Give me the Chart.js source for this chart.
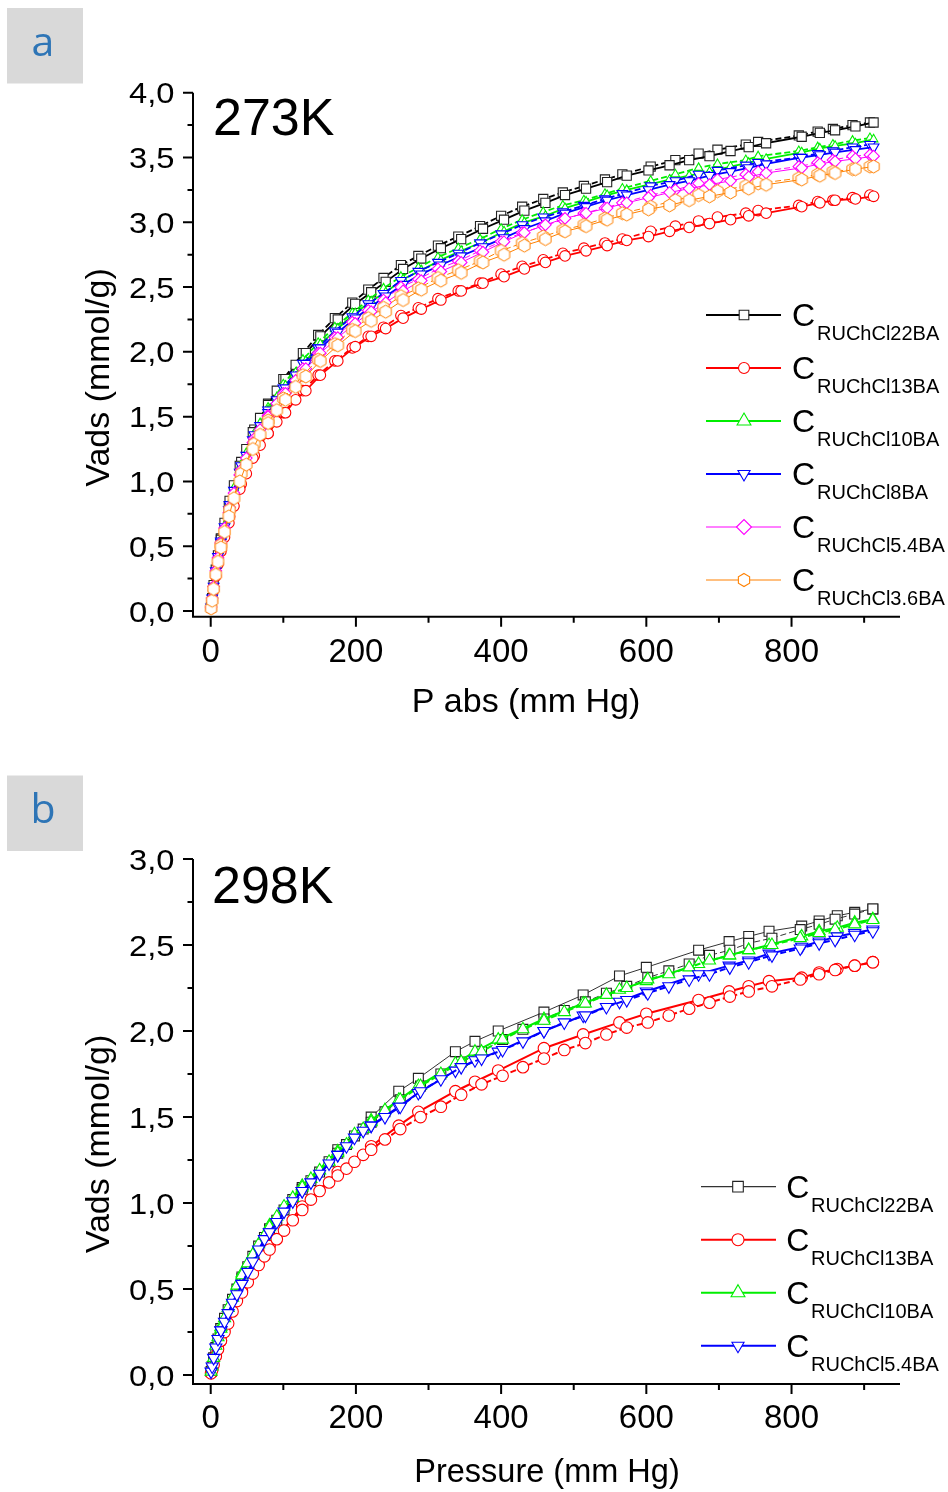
<!DOCTYPE html>
<html><head><meta charset="utf-8">
<script src="https://cdn.jsdelivr.net/npm/chart.js@4.4.1/dist/chart.umd.min.js"></script>
<style>
html,body{margin:0;padding:0;background:#fff;}
body{width:948px;height:1492px;position:relative;overflow:hidden;}
canvas{position:absolute;left:0;}
#ca{top:0;width:948px;height:745px;}
#cb{top:745px;width:948px;height:747px;}
</style></head><body>
<canvas id="ca" width="948" height="745"></canvas>
<canvas id="cb" width="948" height="747"></canvas>
<script>
// ---------------- DATA ----------------
const xMajorTicks = [0, 200, 400, 600, 800];
const xMinorTicks = [100, 300, 500, 700, 900];
const yMajorTicksA = [0, 0.5, 1, 1.5, 2, 2.5, 3, 3.5, 4];
const yMinorTicksA = [0.25, 0.75, 1.25, 1.75, 2.25, 2.75, 3.25, 3.75];
const yMajorTicksB = [0, 0.5, 1, 1.5, 2, 2.5, 3];
const yMinorTicksB = [0.25, 0.75, 1.25, 1.75, 2.25, 2.75];

const seriesNamesA = ['RUChCl22BA', 'RUChCl13BA', 'RUChCl10BA', 'RUChCl8BA', 'RUChCl5.4BA', 'RUChCl3.6BA'];
const seriesNamesB = ['RUChCl22BA', 'RUChCl13BA', 'RUChCl10BA', 'RUChCl5.4BA'];

// Panel a (273K): adsorption branch pressures (mm Hg)
const pressureAdsA = [0.5, 2, 4, 7, 10, 14, 19, 25, 32, 40, 49, 58, 68, 79, 91, 103, 117, 131, 151, 175, 199, 221, 241, 265, 290, 317, 345, 375, 404, 432, 461, 488, 517, 546, 573, 603, 632, 659, 687, 716, 741, 765, 814, 839, 860, 888, 913];
const ads22A = [0.03,0.10,0.20,0.32,0.43,0.55,0.68,0.81,0.97,1.12,1.25,1.38,1.49,1.59,1.70,1.79,1.90,1.99,2.12,2.25,2.37,2.46,2.54,2.64,2.72,2.80,2.87,2.95,3.02,3.09,3.15,3.21,3.26,3.31,3.36,3.40,3.44,3.48,3.51,3.55,3.58,3.61,3.66,3.69,3.71,3.74,3.77];
const ads13A = [0.02,0.08,0.16,0.27,0.36,0.46,0.57,0.68,0.81,0.94,1.06,1.18,1.28,1.37,1.46,1.53,1.63,1.70,1.82,1.93,2.04,2.12,2.18,2.26,2.33,2.40,2.47,2.53,2.58,2.64,2.69,2.74,2.78,2.82,2.86,2.89,2.93,2.96,2.99,3.02,3.05,3.07,3.12,3.15,3.17,3.18,3.20];
const ads10A = [0.03,0.10,0.20,0.31,0.42,0.54,0.66,0.79,0.95,1.09,1.22,1.35,1.45,1.55,1.65,1.74,1.84,1.93,2.06,2.18,2.30,2.39,2.46,2.56,2.63,2.71,2.78,2.85,2.93,3.00,3.05,3.11,3.16,3.21,3.25,3.29,3.33,3.36,3.39,3.43,3.46,3.49,3.54,3.57,3.59,3.61,3.64];
const ads8A  = [0.03,0.10,0.19,0.31,0.42,0.53,0.65,0.78,0.93,1.07,1.20,1.32,1.43,1.53,1.63,1.72,1.82,1.91,2.03,2.15,2.26,2.35,2.43,2.52,2.60,2.67,2.74,2.81,2.88,2.95,3.01,3.07,3.12,3.17,3.21,3.25,3.29,3.32,3.36,3.39,3.42,3.45,3.50,3.52,3.54,3.56,3.58];
const ads54A = [0.03,0.10,0.19,0.31,0.41,0.52,0.64,0.76,0.91,1.05,1.18,1.30,1.40,1.50,1.60,1.68,1.78,1.87,1.99,2.11,2.22,2.31,2.38,2.47,2.55,2.62,2.69,2.77,2.85,2.92,2.98,3.03,3.07,3.11,3.15,3.19,3.23,3.26,3.29,3.32,3.35,3.38,3.42,3.45,3.47,3.49,3.51];
const ads36A = [0.02,0.08,0.17,0.28,0.38,0.49,0.61,0.73,0.87,1.00,1.13,1.25,1.36,1.45,1.55,1.63,1.73,1.81,1.93,2.05,2.16,2.24,2.31,2.40,2.48,2.55,2.61,2.69,2.75,2.82,2.87,2.93,2.97,3.02,3.06,3.10,3.13,3.17,3.20,3.23,3.26,3.29,3.33,3.36,3.38,3.41,3.43];

// Panel a: desorption branch pressures (mm Hg)
const pressureDesA = [908, 884, 857, 836, 810, 754, 737, 698, 672, 640, 606, 567, 543, 514, 485, 458, 429, 400, 371, 341, 313, 286, 262, 238, 217, 195, 171, 148, 127, 100, 79, 60, 42, 26, 14];
const des22A = [3.77,3.75,3.72,3.70,3.67,3.62,3.60,3.56,3.53,3.48,3.43,3.37,3.33,3.28,3.23,3.18,3.12,3.05,2.97,2.89,2.82,2.74,2.67,2.57,2.48,2.38,2.26,2.13,1.99,1.79,1.60,1.40,1.15,0.85,0.56];
const des13A = [3.21,3.19,3.17,3.16,3.13,3.09,3.07,3.04,3.01,2.97,2.93,2.87,2.84,2.80,2.76,2.71,2.66,2.60,2.53,2.47,2.41,2.34,2.28,2.19,2.12,2.03,1.93,1.82,1.70,1.53,1.37,1.20,0.98,0.73,0.48];
const des10A = [3.65,3.63,3.60,3.58,3.55,3.51,3.48,3.45,3.42,3.37,3.32,3.26,3.22,3.17,3.13,3.08,3.02,2.95,2.87,2.80,2.73,2.65,2.58,2.49,2.40,2.30,2.19,2.07,1.94,1.75,1.57,1.37,1.13,0.83,0.55];
const des8A  = [3.60,3.58,3.55,3.53,3.50,3.46,3.44,3.40,3.37,3.32,3.28,3.22,3.18,3.13,3.08,3.04,2.98,2.91,2.84,2.76,2.69,2.62,2.55,2.45,2.37,2.27,2.16,2.03,1.91,1.72,1.55,1.36,1.12,0.82,0.54];
const des54A = [3.52,3.51,3.48,3.46,3.43,3.39,3.37,3.33,3.30,3.25,3.21,3.15,3.11,3.07,3.02,2.97,2.92,2.85,2.78,2.70,2.64,2.56,2.50,2.40,2.32,2.23,2.11,1.99,1.87,1.68,1.51,1.33,1.09,0.80,0.53];
const des36A = [3.43,3.41,3.39,3.37,3.34,3.30,3.28,3.24,3.21,3.17,3.12,3.07,3.03,2.98,2.94,2.89,2.84,2.78,2.70,2.63,2.57,2.49,2.43,2.34,2.26,2.17,2.06,1.94,1.82,1.64,1.47,1.29,1.06,0.78,0.51];

// Panel b (298K): dense branch pressures (mm Hg)
const pressureAdsB = [0.5, 2, 4, 7, 10, 14, 19, 24, 30, 36, 43, 51, 58, 66, 74, 81, 91, 101, 113, 126, 138, 150, 163, 175, 187, 198, 210, 221, 240, 261, 289, 317, 345, 373, 402, 430, 459, 487, 516, 545, 573, 602, 631, 659, 687, 715, 741, 773, 812, 838, 860, 887, 912];
const ads22B = [0.02,0.05,0.10,0.16,0.21,0.27,0.33,0.38,0.44,0.50,0.56,0.63,0.69,0.75,0.80,0.84,0.90,0.96,1.02,1.08,1.13,1.18,1.24,1.29,1.34,1.39,1.43,1.47,1.53,1.60,1.68,1.75,1.82,1.88,1.95,2.01,2.07,2.12,2.17,2.22,2.26,2.31,2.35,2.39,2.44,2.47,2.51,2.54,2.59,2.62,2.65,2.68,2.71];
const ads13B = [0.01,0.03,0.06,0.11,0.15,0.20,0.25,0.30,0.37,0.43,0.48,0.54,0.59,0.64,0.69,0.73,0.79,0.84,0.90,0.96,1.02,1.07,1.12,1.16,1.20,1.24,1.28,1.31,1.37,1.43,1.50,1.56,1.63,1.69,1.74,1.79,1.84,1.89,1.93,1.98,2.02,2.05,2.09,2.13,2.165,2.20,2.23,2.26,2.30,2.33,2.355,2.38,2.40];
const ads10B = [0.02,0.05,0.10,0.17,0.22,0.27,0.33,0.39,0.45,0.52,0.58,0.65,0.70,0.76,0.81,0.86,0.92,0.98,1.03,1.09,1.14,1.19,1.24,1.29,1.34,1.40,1.43,1.47,1.54,1.60,1.68,1.75,1.82,1.88,1.95,2.01,2.06,2.11,2.16,2.21,2.25,2.30,2.33,2.37,2.41,2.44,2.47,2.50,2.54,2.57,2.59,2.62,2.645];
const ads54B = [0.02,0.05,0.10,0.16,0.21,0.26,0.31,0.36,0.42,0.47,0.53,0.60,0.66,0.73,0.79,0.83,0.89,0.95,1.01,1.07,1.12,1.17,1.23,1.28,1.33,1.38,1.42,1.45,1.50,1.56,1.65,1.72,1.79,1.84,1.89,1.94,2.00,2.05,2.09,2.14,2.18,2.22,2.26,2.30,2.33,2.37,2.40,2.44,2.48,2.51,2.53,2.56,2.58];

// Panel b: sparse branch pressures (mm Hg)
const pressureDesB = [912, 887, 863, 838, 814, 769, 741, 714, 672, 600, 563, 513, 459, 396, 364, 337, 286, 259, 221, 175, 126, 81, 43, 14];
const des22B = [2.71,2.69,2.67,2.64,2.61,2.58,2.55,2.52,2.47,2.37,2.32,2.21,2.11,2.00,1.94,1.88,1.725,1.65,1.50,1.31,1.09,0.85,0.57,0.27];
const des13B = [2.40,2.38,2.36,2.34,2.31,2.29,2.26,2.23,2.18,2.10,2.05,1.98,1.90,1.77,1.705,1.65,1.53,1.45,1.33,1.18,0.98,0.75,0.49,0.20];
const des10B = [2.65,2.63,2.60,2.58,2.55,2.50,2.47,2.44,2.39,2.29,2.24,2.16,2.07,1.95,1.88,1.81,1.68,1.60,1.48,1.30,1.10,0.87,0.59,0.28];
const des54B = [2.59,2.57,2.55,2.52,2.49,2.45,2.41,2.38,2.33,2.23,2.17,2.09,2.00,1.88,1.83,1.77,1.64,1.56,1.45,1.28,1.07,0.83,0.53,0.26];

// ---------------- STYLES ----------------
const FONT = '"Liberation Sans", Arial, Helvetica, sans-serif';
const stylesA = [
  {color:'#000000', mc:'#222222', lw:1.8, llw:2, ps:'rect', r:6.5, lr:6.8},
  {color:'#ff0000', lw:1.8, llw:2, ps:'circle', r:5.3, lr:5.5},
  {color:'#00ee00', lw:1.8, llw:2, ps:'triangle', r:5, lr:8},
  {color:'#0000ff', lw:1.8, llw:2, ps:'triangle', rot:180, r:6.2, lr:7},
  {color:'#ff00ff', lw:1, llw:1, ps:'rectRot', r:5.8, lr:7.5},
  {color:'#ff8000', lw:1, llw:1, ps:'hex', r:6.5, lr:6.5}
];
const stylesB = [
  {color:'#333333', mc:'#222222', lw:1, llw:1.2, ps:'rect', r:7, lr:7.5},
  {color:'#ff0000', lw:2, llw:2, ps:'circle', r:5.8, lr:6},
  {color:'#00ee00', lw:2, llw:2, ps:'triangle', r:7, lr:8},
  {color:'#0000ff', lw:2, llw:2, ps:'triangle', rot:180, r:7, lr:7}
];

function pathMarker(ctx, ps, x, y, r, rot) {
  ctx.beginPath();
  if (ps === 'rect') { const s = r * Math.SQRT1_2; ctx.rect(x - s, y - s, 2 * s, 2 * s); }
  else if (ps === 'circle') { ctx.arc(x, y, r, 0, Math.PI * 2); }
  else if (ps === 'triangle') {
    let a = (rot || 0) * Math.PI / 180;
    for (let k = 0; k < 3; k++) { const px = x + Math.sin(a) * r, py = y - Math.cos(a) * r; if (k) ctx.lineTo(px, py); else ctx.moveTo(px, py); a += 2 * Math.PI / 3; }
    ctx.closePath();
  }
  else if (ps === 'rectRot') { ctx.moveTo(x - r, y); ctx.lineTo(x, y - r); ctx.lineTo(x + r, y); ctx.lineTo(x, y + r); ctx.closePath(); }
  else if (ps === 'hex') {
    for (let k = 0; k < 6; k++) { const a = k * Math.PI / 3; const px = x + Math.sin(a) * r, py = y - Math.cos(a) * r; if (k) ctx.lineTo(px, py); else ctx.moveTo(px, py); }
    ctx.closePath();
  }
}
function makeHexCanvas(r, color) {
  const c = document.createElement('canvas');
  const s = Math.ceil(2 * r + 4); c.width = s; c.height = s;
  const g = c.getContext('2d');
  pathMarker(g, 'hex', s / 2, s / 2, r, 0);
  g.fillStyle = '#fff'; g.fill(); g.strokeStyle = color; g.lineWidth = 1; g.stroke();
  return c;
}

function seriesDatasets(name, st, idx, n, px1, v1, dash1, px2, v2, dash2) {
  const pstyle = st.ps === 'hex' ? makeHexCanvas(st.r, st.color) : st.ps;
  const base = {
    showLine: true, tension: 0, fill: false, clip: false,
    borderColor: st.color, borderWidth: st.lw,
    pointStyle: pstyle, pointRadius: st.r, pointHoverRadius: st.r, pointRotation: st.rot || 0,
    pointBorderColor: st.mc || st.color, pointBackgroundColor: '#ffffff', pointBorderWidth: 1.1,
    order: n - idx
  };
  return [
    Object.assign({}, base, {label: name + ' a', data: px1.map((x, i) => ({x: x, y: v1[i]})), borderDash: dash1}),
    Object.assign({}, base, {label: name + ' d', data: px2.map((x, i) => ({x: x, y: v2[i]})), borderDash: dash2})
  ];
}

const decoPlugin = {
  id: 'deco',
  beforeDatasetsDraw(chart, args, o) {
    const ctx = chart.ctx, xs = chart.scales.x, ys = chart.scales.y, a = chart.chartArea;
    ctx.save();
    ctx.strokeStyle = '#000'; ctx.lineWidth = 2; ctx.lineCap = 'butt';
    ctx.beginPath();
    ctx.moveTo(a.left, a.top); ctx.lineTo(a.left, a.bottom + 1);
    ctx.moveTo(a.left - 1, a.bottom); ctx.lineTo(a.right, a.bottom);
    for (const v of o.yMajor) { const y = ys.getPixelForValue(v); ctx.moveTo(a.left - 10, y); ctx.lineTo(a.left, y); }
    for (const v of o.yMinor) { const y = ys.getPixelForValue(v); ctx.moveTo(a.left - 5.5, y); ctx.lineTo(a.left, y); }
    for (const v of o.xMajor) { const x = xs.getPixelForValue(v); ctx.moveTo(x, a.bottom); ctx.lineTo(x, a.bottom + 10); }
    for (const v of o.xMinor) { const x = xs.getPixelForValue(v); ctx.moveTo(x, a.bottom); ctx.lineTo(x, a.bottom + 6); }
    ctx.stroke();
    ctx.restore();
  },
  afterDatasetsDraw(chart, args, o) {
    const ctx = chart.ctx, xs = chart.scales.x, ys = chart.scales.y, a = chart.chartArea, off = o.offset;
    ctx.save();
    ctx.fillStyle = '#000';
    // y tick labels
    ctx.font = '30px ' + FONT; ctx.textAlign = 'right'; ctx.textBaseline = 'alphabetic';
    for (const v of o.yMajor) {
      const y = ys.getPixelForValue(v);
      ctx.save(); ctx.translate(174.5, y + 10.6); ctx.scale(1.09, 1); ctx.fillText(v.toFixed(1).replace('.', ','), 0, 0); ctx.restore();
    }
    // x tick labels
    ctx.font = '33px ' + FONT; ctx.textAlign = 'center';
    for (const v of o.xMajor) { ctx.fillText(String(v), xs.getPixelForValue(v), o.xLabelBase - off); }
    // axis titles
    ctx.font = o.xTitleSize + 'px ' + FONT;
    ctx.fillText(o.xTitle, o.xTitleCx, o.xTitleBase - off);
    ctx.save(); ctx.font = '34px ' + FONT; ctx.translate(108.5, o.yTitleCy - off); ctx.rotate(-Math.PI / 2);
    ctx.fillText(o.yTitle, 0, 0); ctx.restore();
    // temperature
    ctx.font = '52px ' + FONT; ctx.textAlign = 'left';
    ctx.fillText(o.temp, o.tempX, o.tempBase - off);
    // panel tag
    ctx.fillStyle = '#d9d9d9'; ctx.fillRect(7, o.tagTop - off, 76, 75.5);
    ctx.fillStyle = '#2e75b6'; ctx.font = '41px "Open Sans", ' + FONT; ctx.textAlign = 'center';
    ctx.fillText(o.tag, 43, o.tagTop - off + 47.5);
    // legend
    const L = o.legend;
    L.names.forEach((nm, i) => {
      const st = L.styles[i];
      const y = L.y0 + i * L.dy - off;
      ctx.strokeStyle = st.color; ctx.lineWidth = st.llw; ctx.setLineDash([]);
      ctx.beginPath(); ctx.moveTo(L.x1, y); ctx.lineTo(L.x2, y); ctx.stroke();
      pathMarker(ctx, st.ps, L.xm, y, st.lr, st.rot || 0);
      ctx.fillStyle = '#fff'; ctx.fill();
      ctx.strokeStyle = st.mc || st.color; ctx.lineWidth = 1.1; ctx.stroke();
      ctx.fillStyle = '#000'; ctx.textAlign = 'left';
      ctx.font = '32px ' + FONT; ctx.fillText('C', L.xC, y + 11);
      ctx.font = '20px ' + FONT; ctx.fillText(nm, L.xSub, y + 25);
    });
    ctx.restore();
  }
};

function makeChart(el, datasets, pad, ymin, ymax, deco) {
  return new Chart(el, {
    type: 'scatter',
    data: {datasets: datasets},
    options: {
      responsive: false, animation: false, events: [],
      layout: {padding: pad},
      scales: {
        x: {type: 'linear', min: -24.4, max: 949.4, ticks: {display: false}, grid: {display: false}, border: {display: false}, afterFit(s) { s.height = 0; }},
        y: {type: 'linear', min: ymin, max: ymax, ticks: {display: false}, grid: {display: false}, border: {display: false}, afterFit(s) { s.width = 0; }}
      },
      plugins: {legend: {display: false}, tooltip: {enabled: false}, deco: deco}
    },
    plugins: [decoPlugin]
  });
}

// Panel a
const adsA = [ads22A, ads13A, ads10A, ads8A, ads54A, ads36A];
const desA = [des22A, des13A, des10A, des8A, des54A, des36A];
let dsA = [];
seriesNamesA.forEach((nm, i) => { dsA = dsA.concat(seriesDatasets(nm, stylesA[i], i, 6, pressureAdsA, adsA[i], [], pressureDesA, desA[i], [6, 3])); });
makeChart(document.getElementById('ca'), dsA, {left: 193, right: 48, top: 92.7, bottom: 128.3}, -0.044, 4.0, {
  offset: 0, yMajor: yMajorTicksA, yMinor: yMinorTicksA, xMajor: xMajorTicks, xMinor: xMinorTicks,
  xLabelBase: 661.7, xTitle: 'P abs (mm Hg)', xTitleSize: 34, xTitleCx: 526, xTitleBase: 711.7,
  yTitle: 'Vads (mmol/g)', yTitleCy: 377.5, temp: '273K', tempX: 213, tempBase: 135,
  tag: 'a', tagTop: 8,
  legend: {names: seriesNamesA, styles: stylesA, x1: 706, x2: 781, xm: 744, xC: 792, xSub: 817, y0: 315, dy: 53}
});

// Panel b
const adsB = [ads22B, ads13B, ads10B, ads54B];
const desB = [des22B, des13B, des10B, des54B];
let dsB = [];
seriesNamesB.forEach((nm, i) => { dsB = dsB.concat(seriesDatasets(nm, stylesB[i], i, 4, pressureAdsB, adsB[i], [6, 3], pressureDesB, desB[i], [])); });
makeChart(document.getElementById('cb'), dsB, {left: 193, right: 48, top: 114, bottom: 108}, -0.052, 3.0, {
  offset: 745, yMajor: yMajorTicksB, yMinor: yMinorTicksB, xMajor: xMajorTicks, xMinor: xMinorTicks,
  xLabelBase: 1428.3, xTitle: 'Pressure (mm Hg)', xTitleSize: 32.5, xTitleCx: 547, xTitleBase: 1481.7,
  yTitle: 'Vads (mmol/g)', yTitleCy: 1144, temp: '298K', tempX: 212, tempBase: 903,
  tag: 'b', tagTop: 775.5,
  legend: {names: seriesNamesB, styles: stylesB, x1: 701, x2: 776, xm: 738, xC: 786.3, xSub: 811, y0: 1186.7, dy: 53}
});
</script>
</body></html>
